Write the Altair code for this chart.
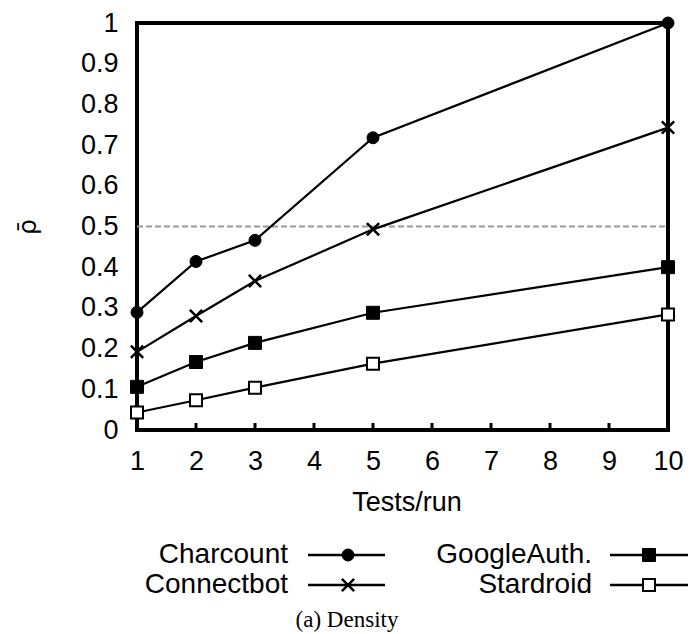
import altair as alt
import pandas as pd

# ---------------- data ----------------
tests_per_run = [1, 2, 3, 5, 10]
charcount = [0.289, 0.414, 0.466, 0.718, 1.000]
connectbot = [0.192, 0.280, 0.366, 0.493, 0.743]
googleauth = [0.106, 0.167, 0.214, 0.288, 0.400]
stardroid = [0.043, 0.073, 0.104, 0.163, 0.284]
series_names = ["Charcount", "Connectbot", "GoogleAuth.", "Stardroid"]
x_tick_values = [1, 2, 3, 4, 5, 6, 7, 8, 9, 10]
y_tick_values = [0, 0.1, 0.2, 0.3, 0.4, 0.5, 0.6, 0.7, 0.8, 0.9, 1.0]
threshold = [0.5]
x_title = "Tests/run"
y_title = "ρ̄"
caption = "(a) Density"

series_values = [charcount, connectbot, googleauth, stardroid]
rows = []
for name, vals in zip(series_names, series_values):
    for t, v in zip(tests_per_run, vals):
        rows.append({"series": name, "tests": t, "rho": v})
df = pd.DataFrame(rows)

# ---------------- layout ----------------
W, H = 531, 407
PAD_L, PAD_T = 137, 23
FONT = "Liberation Sans"
CROSS = "M-1,-1L1,1M-1,1L1,-1"

styles = {
    "Charcount": dict(shape="circle", filled=True, fill="black", size=144, strokeWidth=1),
    "Connectbot": dict(shape=CROSS, filled=False, fill="black", size=150, strokeWidth=2.5),
    "GoogleAuth.": dict(shape="square", filled=True, fill="black", size=169, strokeWidth=1),
    "Stardroid": dict(shape="square", filled=True, fill="white", size=144, strokeWidth=2),
}

xscale = alt.Scale(domain=[1, 10], nice=False, zero=False)
yscale = alt.Scale(domain=[0, 1], nice=False, zero=True)

x_axis = alt.Axis(
    values=x_tick_values, title=x_title, labelFlush=False, labelOverlap=False,
    labelBaseline="alphabetic", labelPadding=39,
    titleX=W / 2 + 4, titleY=80, titleBaseline="alphabetic",
)
y_axis = alt.Axis(
    values=y_tick_values, title=y_title, format="~g", labelFlush=False,
    labelOverlap=False, labelPadding=19,
    titleX=-110, titleY=H / 2, titleAngle=270, titleAlign="center",
    titleBaseline="middle", titleFont="DejaVu Sans", titleFontSize=25,
)

X = alt.X("tests:Q", scale=xscale, axis=x_axis)
Y = alt.Y("rho:Q", scale=yscale, axis=y_axis)

layers = []

# dashed reference line
thr_df = pd.DataFrame({"rho": threshold})
layers.append(
    alt.Chart(thr_df).mark_rule(color="#999999", strokeWidth=2, strokeDash=[6, 3]).encode(
        y=Y, x=alt.value(0), x2=alt.value(W)
    )
)

# inward ticks on bottom axis
tick_df = pd.DataFrame({"tests": x_tick_values[1:-1]})
layers.append(
    alt.Chart(tick_df).mark_rule(color="black", strokeWidth=3).encode(
        x=X, y=alt.value(H), y2=alt.value(H - 7)
    )
)

base = alt.Chart(df)
for name in series_names:
    st = styles[name]
    d = base.transform_filter(alt.datum.series == name)
    layers.append(d.mark_line(color="black", strokeWidth=2.2).encode(x=X, y=Y))
    layers.append(
        d.mark_point(
            shape=st["shape"], filled=st["filled"], fill=st["fill"], stroke="black",
            strokeWidth=st["strokeWidth"], size=st["size"], opacity=1,
        ).encode(x=X, y=Y)
    )

# legend (two columns, label left of symbol)
col_text_x = [151, 455]
col_line = [(171, 248), (473, 551)]
col_mark_x = [211, 512]
row_y = [532, 562]
for i, name in enumerate(series_names):
    col, row = i // 2, i % 2
    st = styles[name]
    ldf = pd.DataFrame({"series": [name]})
    lc = alt.Chart(ldf)
    layers.append(
        lc.mark_text(align="right", baseline="middle", font=FONT, fontSize=28, color="black").encode(
            text="series:N", x=alt.value(col_text_x[col]), y=alt.value(row_y[row])
        )
    )
    layers.append(
        lc.mark_rule(color="black", strokeWidth=2.5).encode(
            x=alt.value(col_line[col][0]), x2=alt.value(col_line[col][1]), y=alt.value(row_y[row])
        )
    )
    layers.append(
        lc.mark_point(
            shape=st["shape"], filled=st["filled"], fill=st["fill"], stroke="black",
            strokeWidth=st["strokeWidth"], size=st["size"], opacity=1,
        ).encode(x=alt.value(col_mark_x[col]), y=alt.value(row_y[row]))
    )

# caption
cap_df = pd.DataFrame({"caption": [caption]})
layers.append(
    alt.Chart(cap_df).mark_text(
        align="center", baseline="middle", font="Liberation Serif", fontSize=23, color="black"
    ).encode(text="caption:N", x=alt.value(210), y=alt.value(597))
)

chart = (
    alt.layer(*layers)
    .properties(
        width=W, height=H,
        autosize=alt.AutoSizeParams(type="none"),
        padding={"left": PAD_L, "top": PAD_T, "right": 693 - PAD_L - W, "bottom": 634 - PAD_T - H},
    )
    .configure(background="white")
    .configure_view(stroke="black", strokeWidth=4)
    .configure_axis(
        domain=False, grid=False, ticks=False, tickSize=0,
        labelFont=FONT, labelFontSize=27, labelColor="black",
        titleFont=FONT, titleFontSize=27, titleColor="black", titleFontWeight="normal",
    )
)

chart.save("out.html", embed_options={"renderer": "svg", "actions": False})
